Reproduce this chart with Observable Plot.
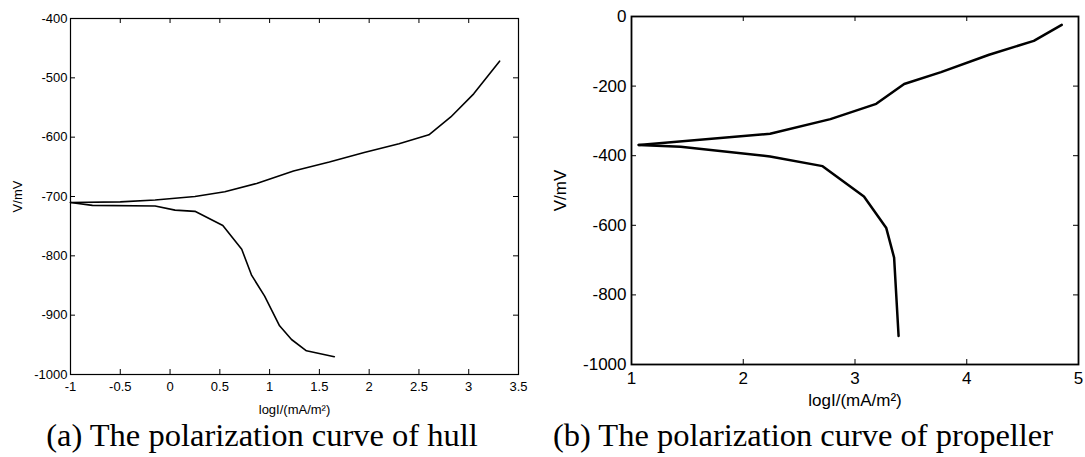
<!DOCTYPE html>
<html><head><meta charset="utf-8">
<script src="https://cdn.jsdelivr.net/npm/d3@7"></script>
<script src="https://cdn.jsdelivr.net/npm/@observablehq/plot@0.6"></script>
<style>
body{margin:0;background:#fff;}
#wrap{position:relative;width:1085px;height:457px;overflow:hidden;background:#fff;}
.panel{position:absolute;top:0;}
.cap{position:absolute;top:419px;font-family:"Liberation Serif","Times New Roman",serif;font-size:32.5px;line-height:32px;white-space:nowrap;color:#000;transform:translateX(-50%);}
</style></head><body>
<div id="wrap">
<div id="a" class="panel" style="left:0px"></div>
<div id="b" class="panel" style="left:540px"></div>
<div class="cap" style="left:262px">(a) The polarization curve of hull</div>
<div class="cap" style="left:803px">(b) The polarization curve of propeller</div>
</div>
<script>
// ---- Data: (a) hull ----
const hullUpperLogI = [-1, -0.5, -0.15, 0.25, 0.55, 0.87, 1.24, 1.6, 1.95, 2.3, 2.6, 2.82, 3.05, 3.31];
const hullUpperV    = [-710, -709, -706, -700, -692, -678, -657, -642, -626, -611, -596, -566, -527, -472];
const hullLowerLogI = [-1, -0.78, -0.15, 0.05, 0.25, 0.53, 0.72, 0.82, 0.95, 1.1, 1.22, 1.37, 1.65];
const hullLowerV    = [-710, -715, -716, -723, -725, -749, -789, -833, -868, -918, -941, -960, -970];
const hullXTicks = [-1, -0.5, 0, 0.5, 1, 1.5, 2, 2.5, 3, 3.5];
const hullYTicks = [-1000, -900, -800, -700, -600, -500, -400];

// ---- Data: (b) propeller ----
const propUpperLogI = [1.065, 2.24, 2.78, 3.19, 3.44, 3.77, 4.2, 4.6, 4.85];
const propUpperV    = [-369, -337, -295, -251, -194, -160, -110, -70, -24];
const propLowerLogI = [1.065, 1.44, 2.24, 2.71, 3.08, 3.28, 3.35, 3.39];
const propLowerV    = [-369, -374, -402, -430, -517, -608, -693, -918];
const propXTicks = [1, 2, 3, 4, 5];
const propYTicks = [-1000, -800, -600, -400, -200, 0];

const xLabel = "logI/(mA/m²)";
const yLabel = "V/mV";

const rows = (xs, ys) => xs.map((x, i) => ({x, y: ys[i]}));
const fmt = d => String(d);

function panel(o) {
  const innerW = o.width - o.ml - o.mr;
  const innerH = o.height - o.mt - o.mb;
  const t = o.tick;
  return Plot.plot({
    width: o.width, height: o.height,
    marginLeft: o.ml, marginRight: o.mr, marginTop: o.mt, marginBottom: o.mb,
    style: {fontFamily: "'Liberation Sans', Arial, sans-serif", fontSize: o.fs + "px", color: "#000", background: "transparent", overflow: "visible"},
    x: {domain: o.xDomain, ticks: o.xTicks},
    y: {domain: o.yDomain, ticks: o.yTicks},
    marks: [
      Plot.axisX(o.xTicks, {tickSize: 0, tickPadding: o.tpx, tickFormat: fmt, label: xLabel, labelAnchor: "center", labelOffset: o.xlo, labelArrow: "none", fontSize: o.fs}),
      Plot.axisY(o.yTicks, {tickSize: 0, tickPadding: o.tpy, tickFormat: fmt, label: yLabel, labelAnchor: "center", labelOffset: o.ylo, labelArrow: "none", fontSize: o.fs}),
      Plot.tickX(o.xTicks, {x: d => d, stroke: "#000", strokeWidth: 1, insetTop: innerH - t}),
      Plot.tickX(o.xTicks, {x: d => d, stroke: "#000", strokeWidth: 1, insetBottom: innerH - t}),
      Plot.tickY(o.yTicks, {y: d => d, stroke: "#000", strokeWidth: 1, insetRight: innerW - t}),
      Plot.tickY(o.yTicks, {y: d => d, stroke: "#000", strokeWidth: 1, insetLeft: innerW - t}),
      Plot.line(o.upper, {x: "x", y: "y", stroke: "#000", strokeWidth: o.sw}),
      Plot.line(o.lower, {x: "x", y: "y", stroke: "#000", strokeWidth: o.sw}),
      Plot.frame({stroke: "#000", strokeWidth: o.fw})
    ]
  });
}

document.getElementById("a").appendChild(panel({
  width: 540, height: 420, ml: 70, mr: 22, mt: 18, mb: 46,
  xDomain: [-1, 3.5], yDomain: [-1000, -400], xTicks: hullXTicks, yTicks: hullYTicks,
  upper: rows(hullUpperLogI, hullUpperV), lower: rows(hullLowerLogI, hullLowerV),
  fs: 13, tpx: 7, tpy: 3, xlo: 39, ylo: 58, tick: 5, sw: 1.6, fw: 1.2
}));

document.getElementById("b").appendChild(panel({
  width: 545, height: 410, ml: 91, mr: 7, mt: 16, mb: 46,
  xDomain: [1, 5], yDomain: [-1000, 0], xTicks: propXTicks, yTicks: propYTicks,
  upper: rows(propUpperLogI, propUpperV), lower: rows(propLowerLogI, propLowerV),
  fs: 17, tpx: 7, tpy: 5, xlo: 41, ylo: 78, tick: 5, sw: 2.5, fw: 1.8
}));
</script>
</body></html>
